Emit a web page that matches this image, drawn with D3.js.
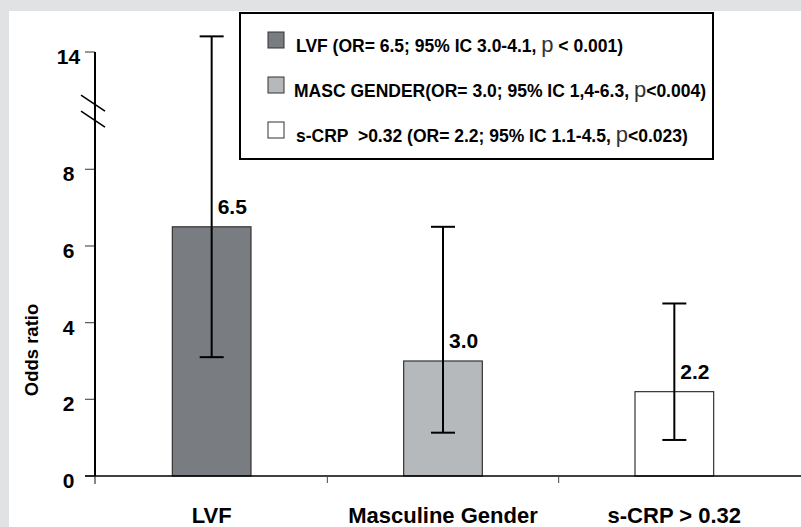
<!DOCTYPE html>
<html lang="en">
<head>
  <meta charset="UTF-8" />
  <title>Odds ratio bar chart</title>
  <script src="https://d3js.org/d3.v7.min.js"></script>
  <style>
    body {
      margin: 0;
      padding: 0;
      overflow: hidden;
      background: #e1e2e4;
      font-family: Arial, "Liberation Sans", sans-serif;
    }
    text { font-family: Arial, "Liberation Sans", sans-serif; }
  </style>
</head>
<body>
  <div id="viz"></div>
  <script>
    // data
    const categories = ["LVF", "Masculine Gender", "s-CRP > 0.32"];
    const oddsRatios = [6.5, 3.0, 2.2];
    const ciLower = [3.1, 1.13, 0.94];
    const ciUpper = [14.8, 6.5, 4.5];
    const valueLabels = ["6.5", "3.0", "2.2"];
    const barFills = ["#797c80", "#b6b9bb", "#ffffff"];
    const yTicks = [0, 2, 4, 6, 8, 14];
    const legendMain = [
      "LVF (OR= 6.5; 95% IC 3.0-4.1, ",
      "MASC GENDER(OR= 3.0; 95% IC 1,4-6.3, ",
      "s-CRP  >0.32 (OR= 2.2; 95% IC 1.1-4.5, "
    ];
    const legendTail = [" < 0.001)", "<0.004)", "<0.023)"];

    const width = 801, height = 527;
    const baseY = 476;

    const svg = d3.select("#viz")
      .append("svg")
      .attr("width", width)
      .attr("height", height);

    // white panel over grey frame
    svg.append("rect")
      .attr("x", 9).attr("y", 11)
      .attr("width", width - 9).attr("height", height - 11)
      .attr("fill", "white");

    // broken y scale: 0-8 linear, then compressed up to 14+
    const y = d3.scaleLinear()
      .domain([0, 8, 14])
      .range([baseY, 169.3, 52]);

    const x = d3.scaleBand()
      .domain(categories)
      .range([96, 790])
      .paddingInner(0.66)
      .paddingOuter(0.33);

    const axisX = 95;

    // y ticks
    svg.selectAll(".ytick")
      .data(yTicks)
      .enter()
      .append("line")
      .attr("x1", axisX - 10)
      .attr("x2", axisX)
      .attr("y1", d => y(d))
      .attr("y2", d => y(d))
      .attr("stroke", "#555")
      .attr("stroke-width", 1.2);

    svg.selectAll(".ylabel")
      .data(yTicks)
      .enter()
      .append("text")
      .attr("x", 68.5)
      .attr("y", d => y(d) + 12)
      .attr("text-anchor", "middle")
      .style("font-size", "21px")
      .style("font-weight", "bold")
      .text(d => d);

    // y axis line
    svg.append("line")
      .attr("x1", axisX).attr("x2", axisX)
      .attr("y1", y(14)).attr("y2", baseY)
      .attr("stroke", "black")
      .attr("stroke-width", 2);
    svg.append("line")
      .attr("x1", axisX).attr("x2", axisX)
      .attr("y1", baseY).attr("y2", baseY + 8)
      .attr("stroke", "#888")
      .attr("stroke-width", 2);

    // axis break marks
    const breakY = y(11);
    [-8, 8].forEach(off => {
      svg.append("line")
        .attr("x1", axisX - 14).attr("y1", breakY + off - 7.5)
        .attr("x2", axisX + 10).attr("y2", breakY + off + 8.5)
        .attr("stroke", "black")
        .attr("stroke-width", 1.6);
    });

    // bars
    svg.selectAll(".bar")
      .data(categories)
      .enter()
      .append("rect")
      .attr("x", d => x(d))
      .attr("y", (d, i) => y(oddsRatios[i]))
      .attr("width", x.bandwidth())
      .attr("height", (d, i) => baseY - y(oddsRatios[i]))
      .attr("fill", (d, i) => barFills[i])
      .attr("stroke", "#333")
      .attr("stroke-width", 1.2);

    // baseline
    svg.append("line")
      .attr("x1", axisX - 10).attr("x2", width)
      .attr("y1", baseY).attr("y2", baseY)
      .attr("stroke", "black")
      .attr("stroke-width", 1.5);

    // x ticks between categories
    categories.slice(1).forEach(c => {
      const tx = x(c) - x.step() * x.paddingInner() / 2;
      svg.append("line")
        .attr("x1", tx).attr("x2", tx)
        .attr("y1", baseY).attr("y2", baseY + 7)
        .attr("stroke", "#444")
        .attr("stroke-width", 1);
    });

    // error bars
    categories.forEach((c, i) => {
      const cx = x(c) + x.bandwidth() / 2;
      const g = svg.append("g")
        .attr("stroke", "black")
        .attr("stroke-width", 2);
      g.append("line")
        .attr("x1", cx).attr("x2", cx)
        .attr("y1", y(ciLower[i])).attr("y2", y(ciUpper[i]));
      [ciLower[i], ciUpper[i]].forEach(v => {
        g.append("line")
          .attr("x1", cx - 12).attr("x2", cx + 12)
          .attr("y1", y(v)).attr("y2", y(v));
      });
    });

    // value labels
    svg.selectAll(".val")
      .data(categories)
      .enter()
      .append("text")
      .attr("x", d => x(d) + x.bandwidth() / 2 + 6)
      .attr("y", (d, i) => y(oddsRatios[i]) - 12.5)
      .style("font-size", "21px")
      .style("font-weight", "bold")
      .text((d, i) => valueLabels[i]);

    // category labels
    svg.selectAll(".cat")
      .data(categories)
      .enter()
      .append("text")
      .attr("x", d => x(d) + x.bandwidth() / 2)
      .attr("y", 523)
      .attr("text-anchor", "middle")
      .style("font-size", "22px")
      .style("font-weight", "bold")
      .text(d => d);

    // y axis title
    svg.append("text")
      .attr("transform", "translate(38,350) rotate(-90)")
      .attr("text-anchor", "middle")
      .style("font-size", "18.5px")
      .style("font-weight", "bold")
      .text("Odds ratio");

    // legend
    const legend = svg.append("g");
    legend.append("rect")
      .attr("x", 240).attr("y", 13)
      .attr("width", 473).attr("height", 146)
      .attr("fill", "white")
      .attr("stroke", "black")
      .attr("stroke-width", 2);

    const rowY = [52, 97, 142];
    legendMain.forEach((t, i) => {
      legend.append("rect")
        .attr("x", 268).attr("y", rowY[i] - 20)
        .attr("width", 16).attr("height", 16)
        .attr("fill", barFills[i])
        .attr("stroke", "#333")
        .attr("stroke-width", 1);
      const txt = legend.append("text")
        .attr("x", i === 1 ? 294 : 296)
        .attr("y", rowY[i])
        .style("font-size", "17.5px")
        .style("font-weight", "bold")
        .attr("xml:space", "preserve")
        .style("white-space", "pre");
      txt.append("tspan").text(t);
      txt.append("tspan")
        .style("font-size", "22px")
        .style("font-weight", "normal")
        .attr("fill", "#333")
        .text("p");
      txt.append("tspan").text(legendTail[i]);
    });
  </script>
</body>
</html>
